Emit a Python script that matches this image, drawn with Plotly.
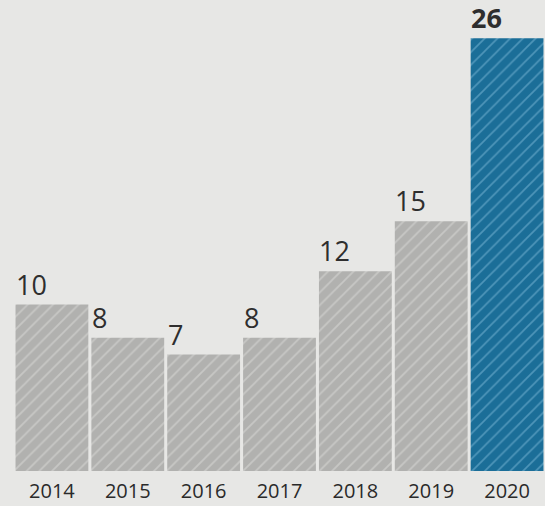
import plotly.graph_objects as go

years = ["2014", "2015", "2016", "2017", "2018", "2019", "2020"]
values = [10, 8, 7, 8, 12, 15, 26]
highlight_year = "2020"
gray, gray_stripe = "#b1b1af", "#dededc"
blue, blue_stripe = "#1b6e98", "#82bcda"

fig = go.Figure()
for is_hi, col, stripe in [(False, gray, gray_stripe), (True, blue, blue_stripe)]:
    xs = [y for y in years if (y == highlight_year) == is_hi]
    vs = [v for y, v in zip(years, values) if (y == highlight_year) == is_hi]
    fig.add_trace(go.Bar(
        x=xs, y=vs,
        marker=dict(
            color=col,
            line=dict(width=0),
            pattern=dict(shape="/", fgcolor=stripe, bgcolor=col, size=9, solidity=0.18),
        ),
        hoverinfo="skip",
    ))

for i, (yr, v) in enumerate(zip(years, values)):
    last = yr == highlight_year
    fig.add_annotation(
        x=i, y=v, xref="x", yref="y",
        text=f"<b>{v}</b>" if last else str(v),
        showarrow=False, xanchor="left", yanchor="bottom",
        xshift=-38, yshift=0,
        font=dict(family="Open Sans", size=27, color="#2e2e2e"),
    )

fig.update_layout(
    width=545, height=506,
    margin=dict(l=14, r=0, t=0, b=35),
    paper_bgcolor="#e7e7e5", plot_bgcolor="#e7e7e5",
    bargap=0.04, barmode="overlay", showlegend=False,
    xaxis=dict(type="category", categoryorder="array", categoryarray=years,
               range=[-0.5, 6.5], showgrid=False, showline=False,
               ticks="", zeroline=False, ticklabelstandoff=6,
               tickfont=dict(family="Open Sans", size=20, color="#2a2a2a")),
    yaxis=dict(range=[0, 28.3], visible=False, showgrid=False, zeroline=False),
)

fig.write_html("out.html", config={"displayModeBar": False},
               post_script="document.body.style.margin='0';")
